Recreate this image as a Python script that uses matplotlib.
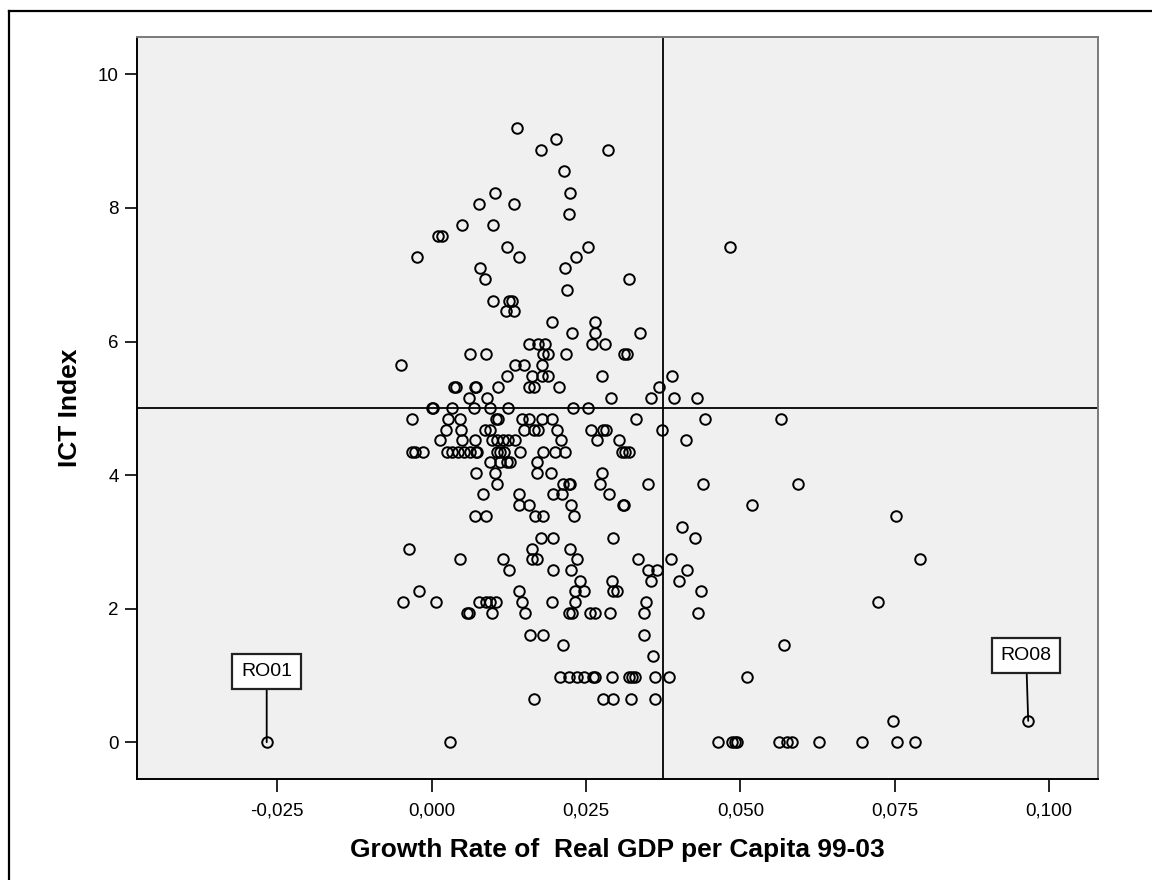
import matplotlib
matplotlib.use("Agg")
import matplotlib.pyplot as plt
from matplotlib.lines import Line2D

plt.rcParams['font.family'] = ['Liberation Sans', 'DejaVu Sans']

# ICT index levels (rows) and the GDP growth values sitting on each row
ict_rows = [9.19, 9.03, 8.87, 8.55, 8.23, 8.06, 7.91, 7.74, 7.58, 7.42, 7.26, 7.10,
            6.94, 6.77, 6.61, 6.45, 6.29, 6.13, 5.97, 5.81, 5.65, 5.48, 5.32, 5.16,
            5.00, 4.84, 4.68, 4.52, 4.35, 4.19, 4.03, 3.87, 3.71, 3.55, 3.39, 3.23,
            3.06, 2.90, 2.74, 2.58, 2.42, 2.26, 2.10, 1.94, 1.61, 1.45, 1.29, 0.97,
            0.65, 0.32, 0.00]
growth_by_row = [
    [0.0139],
    [0.0201],
    [0.0177, 0.0286],
    [0.0215],
    [0.0102, 0.0224],
    [0.0076, 0.0133],
    [0.0223],
    [0.0050, 0.0100],
    [0.0011, 0.0017],
    [0.0122, 0.0254, 0.0483],
    [-0.0023, 0.0141, 0.0233],
    [0.0078, 0.0216],
    [0.0086, 0.0319],
    [0.0219],
    [0.0100, 0.0126, 0.0130],
    [0.0120, 0.0133],
    [0.0195, 0.0265],
    [0.0227, 0.0265, 0.0338],
    [0.0157, 0.0173, 0.0184, 0.0259, 0.0281],
    [0.0062, 0.0088, 0.0181, 0.0189, 0.0218, 0.0311, 0.0316],
    [-0.0050, 0.0135, 0.0150, 0.0178],
    [0.0122, 0.0162, 0.0178, 0.0189, 0.0276, 0.0389],
    [0.0036, 0.0039, 0.0070, 0.0072, 0.0107, 0.0157, 0.0165, 0.0207, 0.0369],
    [0.0060, 0.0090, 0.0291, 0.0355, 0.0393, 0.0430],
    [0.0000, 0.0003, 0.0033, 0.0068, 0.0095, 0.0123, 0.0229, 0.0253],
    [-0.0031, 0.0026, 0.0046, 0.0104, 0.0107, 0.0146, 0.0158, 0.0178, 0.0195,
     0.0331, 0.0442, 0.0565],
    [0.0024, 0.0048, 0.0086, 0.0094, 0.0149, 0.0165, 0.0173, 0.0203, 0.0258,
     0.0278, 0.0283, 0.0373],
    [0.0014, 0.0050, 0.0070, 0.0097, 0.0106, 0.0115, 0.0123, 0.0135, 0.0210,
     0.0268, 0.0303, 0.0412],
    [-0.0032, -0.0027, -0.0014, 0.0025, 0.0033, 0.0043, 0.0052, 0.0062, 0.0072,
     0.0073, 0.0106, 0.0111, 0.0117, 0.0143, 0.0181, 0.0200, 0.0216, 0.0308,
     0.0313, 0.0319],
    [0.0095, 0.0111, 0.0122, 0.0127, 0.0170],
    [0.0072, 0.0102, 0.0170, 0.0193, 0.0276],
    [0.0106, 0.0213, 0.0222, 0.0224, 0.0272, 0.0351, 0.0439, 0.0594],
    [0.0084, 0.0142, 0.0197, 0.0211, 0.0288],
    [0.0142, 0.0157, 0.0226, 0.0310, 0.0312, 0.0519],
    [0.0070, 0.0088, 0.0168, 0.0180, 0.0230, 0.0752],
    [0.0405],
    [0.0177, 0.0197, 0.0293, 0.0427],
    [-0.0036, 0.0162, 0.0224],
    [0.0046, 0.0116, 0.0162, 0.0170, 0.0236, 0.0335, 0.0387, 0.0790],
    [0.0126, 0.0196, 0.0225, 0.0351, 0.0365, 0.0413],
    [0.0240, 0.0292, 0.0355, 0.0401],
    [-0.0020, 0.0142, 0.0232, 0.0246, 0.0294, 0.0300, 0.0436],
    [-0.0047, 0.0007, 0.0077, 0.0088, 0.0095, 0.0104, 0.0146, 0.0195, 0.0232,
     0.0347, 0.0722],
    [0.0057, 0.0060, 0.0098, 0.0152, 0.0222, 0.0227, 0.0257, 0.0265, 0.0289,
     0.0344, 0.0431],
    [0.0159, 0.0180, 0.0344],
    [0.0213, 0.0571],
    [0.0358],
    [0.0208, 0.0222, 0.0236, 0.0246, 0.0262, 0.0265, 0.0292, 0.0319, 0.0324,
     0.0330, 0.0362, 0.0385, 0.0510],
    [0.0166, 0.0277, 0.0293, 0.0323, 0.0362],
    [0.0747, 0.0966],
    [-0.0267, 0.0029, 0.0463, 0.0486, 0.0491, 0.0494, 0.0562, 0.0575, 0.0583,
     0.0627, 0.0697, 0.0754, 0.0783],
]

labeled_cases = ['RO01', 'RO08']
labeled_x = [-0.0267, 0.0966]
labeled_y = [0.00, 0.32]

ref_x = 0.0375
ref_y = 5.0

x_ticks = [-0.025, 0.0, 0.025, 0.05, 0.075, 0.1]
y_ticks = [0, 2, 4, 6, 8, 10]

gdp = []
ict = []
for yv, xs in zip(ict_rows, growth_by_row):
    for xv in xs:
        gdp.append(xv)
        ict.append(yv)

fig = plt.figure(figsize=(11.52, 8.8), dpi=100)
ax = fig.add_axes([137/1152, 1 - 779/880, (1098-137)/1152, (779-37)/880])
ax.set_facecolor('#f0f0f0')

ax.axhline(ref_y, color='black', lw=1.3, zorder=1)
ax.axvline(ref_x, color='black', lw=1.3, zorder=1)
ax.plot(gdp, ict, 'o', ls='none', mfc='none', mec='black', ms=7.6, mew=1.4, zorder=3)

offsets = [(0, 51), (-1.5, 47)]
for name, xv, yv, off in zip(labeled_cases, labeled_x, labeled_y, offsets):
    ax.annotate(name, (xv, yv), xytext=off, textcoords='offset points',
                ha='center', va='center', fontsize=14,
                bbox=dict(boxstyle='square,pad=0.45', fc='white', ec='#222222', lw=1.6),
                arrowprops=dict(arrowstyle='-', color='black', lw=1.3,
                                shrinkA=0, shrinkB=0), zorder=4)

ax.set_xlim(-0.0477, 0.1079)
ax.set_ylim(-0.55, 10.56)
ax.set_xticks(x_ticks)
ax.set_xticklabels([('%.3f' % t).replace('.', ',') for t in x_ticks])
ax.set_yticks(y_ticks)
ax.set_yticklabels([str(t) for t in y_ticks])
ax.tick_params(axis='both', direction='out', length=9, width=1.2, labelsize=13.5,
               color='black')
ax.tick_params(axis='x', pad=8)
ax.tick_params(axis='y', pad=4)

for side in ['left', 'bottom']:
    ax.spines[side].set_color('black')
    ax.spines[side].set_linewidth(1.4)
for side in ['top', 'right']:
    ax.spines[side].set_color('#7a7a7a')
    ax.spines[side].set_linewidth(1.4)

ax.set_xlabel('Growth Rate of  Real GDP per Capita 99-03', fontsize=19, fontweight='bold',
              va='center')
ax.set_ylabel('ICT Index', fontsize=19, fontweight='bold', va='center')
ax.xaxis.set_label_coords(0.5, -(850-779)/742)
ax.yaxis.set_label_coords(-(137-70)/961, 0.5)

# outer frame of the exported chart (left and top edges visible)
fig.add_artist(Line2D([9/1152, 9/1152], [0, 1 - 11/880], transform=fig.transFigure,
                      color='black', lw=1.6))
fig.add_artist(Line2D([9/1152, 1], [1 - 11/880, 1 - 11/880], transform=fig.transFigure,
                      color='black', lw=1.6))

fig.savefig('out.png', dpi=100)
